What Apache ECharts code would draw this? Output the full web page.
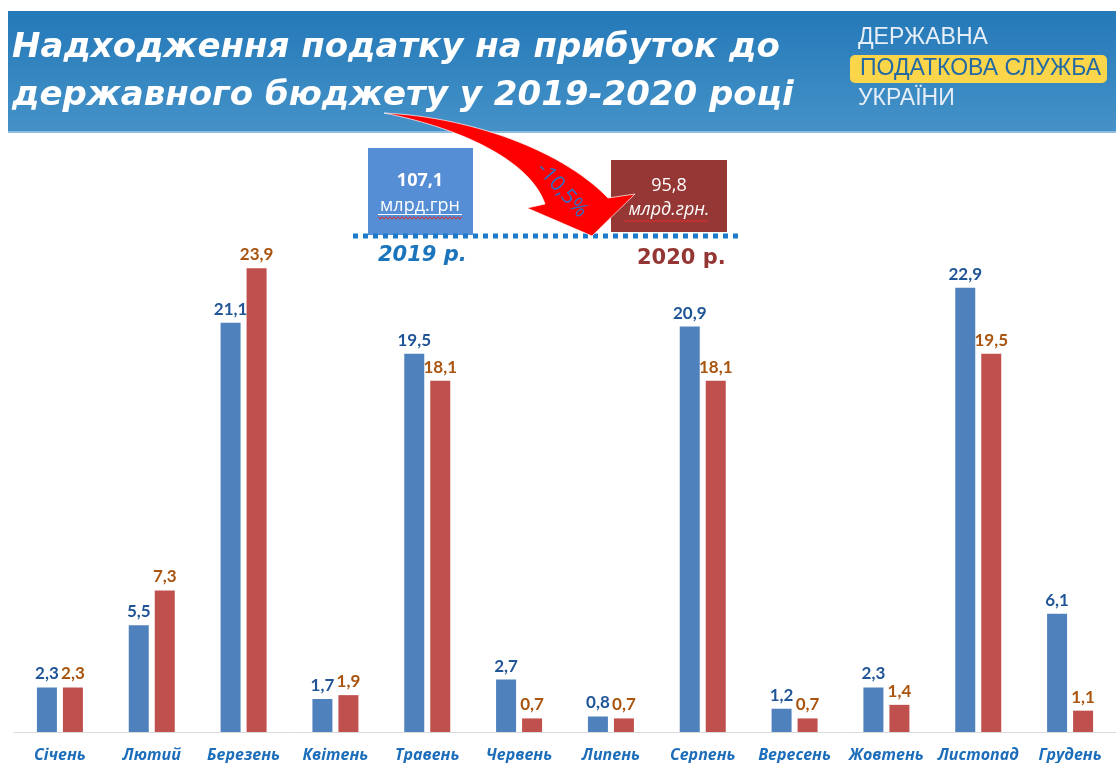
<!DOCTYPE html>
<html>
<head>
<meta charset="utf-8">
<script src="https://cdn.jsdelivr.net/npm/echarts@6/dist/echarts.min.js"></script>
<style>
  html, body { margin: 0; padding: 0; background: #ffffff; }
  #chart { width: 1116px; height: 763px; }
</style>
</head>
<body>
<div id="chart"></div>
<script>
// Monthly corporate profit tax receipts, bn UAH
const months = ['Січень', 'Лютий', 'Березень', 'Квітень', 'Травень', 'Червень',
                'Липень', 'Серпень', 'Вересень', 'Жовтень', 'Листопад', 'Грудень'];
const values2019 = [2.3, 5.5, 21.1, 1.7, 19.5, 2.7, 0.8, 20.9, 1.2, 2.3, 22.9, 6.1];
const values2020 = [2.3, 7.3, 23.9, 1.9, 18.1, 0.7, 0.7, 18.1, 0.7, 1.4, 19.5, 1.1];
const total2019 = '107,1';
const total2020 = '95,8';
const changePct = '-10,5%';
const titleLines = ['Надходження податку на прибуток до', 'державного бюджету у 2019-2020 році'];
const logoLines = ['ДЕРЖАВНА', 'ПОДАТКОВА СЛУЖБА', 'УКРАЇНИ'];

const fmt = p => String(p.value).replace('.', ',');

const chart = echarts.init(document.getElementById('chart'), null, { renderer: 'canvas' });

// red spell-check style wavy underline
const squiggle = (x0, x1, y) => {
  const pts = [];
  for (let x = x0, i = 0; x <= x1; x += 2, i++) pts.push([x, y + (i % 2 ? 1.2 : -1.2)]);
  return pts;
};

// sample a cubic bezier into points
const cubic = (p0, p1, p2, p3, n) => {
  const pts = [];
  for (let i = 0; i <= n; i++) {
    const t = i / n, u = 1 - t;
    pts.push([
      u * u * u * p0[0] + 3 * u * u * t * p1[0] + 3 * u * t * t * p2[0] + t * t * t * p3[0],
      u * u * u * p0[1] + 3 * u * u * t * p1[1] + 3 * u * t * t * p2[1] + t * t * t * p3[1]
    ]);
  }
  return pts;
};

// curved block arrow from the title down to the 2020 total
const arrowPoints = [].concat(
  cubic([384, 113], [470, 117], [562, 150], [608, 198], 30),
  [[635, 194], [592, 236], [527, 208], [545, 204]],
  cubic([545, 204], [530, 160], [460, 128], [384, 113], 30)
);

chart.setOption({
  animation: false,
  backgroundColor: '#ffffff',
  grid: { left: 14, right: 0, top: 150, bottom: 31, containLabel: false },
  xAxis: {
    type: 'category',
    data: months,
    axisLine: { show: true, lineStyle: { color: '#d9d9d9', width: 1 } },
    axisTick: { show: false },
    axisLabel: {
      color: '#1c6dba', fontFamily: 'Open Sans', fontWeight: 'bold', fontStyle: 'italic',
      fontSize: 16, margin: 15, interval: 0
    }
  },
  yAxis: { type: 'value', min: 0, max: 30, show: false, splitLine: { show: false } },
  series: [
    {
      name: '2019', type: 'bar', data: values2019, barWidth: 20, barGap: '30%',
      itemStyle: { color: '#4f81bd' },
      label: { show: true, position: 'top', distance: 5, formatter: fmt,
               color: '#1f5597', fontFamily: 'Lato', fontWeight: 'bold', fontSize: 17 }
    },
    {
      name: '2020', type: 'bar', data: values2020, barWidth: 20,
      itemStyle: { color: '#c0504d' },
      label: { show: true, position: 'top', distance: 5, formatter: fmt,
               color: '#a9550f', fontFamily: 'Lato', fontWeight: 'bold', fontSize: 17 }
    }
  ],
  graphic: [
    // header band
    {
      type: 'rect', shape: { x: 8, y: 11, width: 1108, height: 121 }, z: 10,
      style: { fill: new echarts.graphic.LinearGradient(0, 0, 0, 1, [
        { offset: 0, color: '#2479b8' }, { offset: 1, color: '#4592c8' }]) }
    },
    { type: 'rect', shape: { x: 8, y: 131, width: 1108, height: 2 }, z: 10, style: { fill: '#8fbde0' } },
    {
      type: 'text', x: 12, y: 48, z: 11,
      style: { text: titleLines[0], fill: '#ffffff', font: 'italic bold 34px "DejaVu Sans"', verticalAlign: 'middle' }
    },
    {
      type: 'text', x: 12, y: 96, z: 11,
      style: { text: titleLines[1], fill: '#ffffff', font: 'italic bold 34px "DejaVu Sans"', verticalAlign: 'middle' }
    },
    // service logo
    {
      type: 'text', x: 858, y: 38, z: 11,
      style: { text: logoLines[0], fill: '#e6eef7', font: '23px "Liberation Sans"', verticalAlign: 'middle' }
    },
    {
      type: 'rect', shape: { x: 850, y: 55, width: 257, height: 28, r: 5 }, z: 11,
      style: { fill: '#fcd64a' }
    },
    {
      type: 'text', x: 860, y: 69, z: 12,
      style: { text: logoLines[1], fill: '#2369a4', font: '23px "Liberation Sans"', verticalAlign: 'middle' }
    },
    {
      type: 'text', x: 858, y: 99, z: 11,
      style: { text: logoLines[2], fill: '#e6eef7', font: '23px "Liberation Sans"', verticalAlign: 'middle' }
    },
    // annual totals
    { type: 'rect', shape: { x: 368, y: 148, width: 105, height: 87 }, z: 10, style: { fill: '#558ed5' } },
    {
      type: 'text', x: 420, y: 181, z: 11,
      style: { text: total2019, fill: '#ffffff', font: 'bold 18px "Open Sans"', align: 'center', verticalAlign: 'middle' }
    },
    {
      type: 'text', x: 420, y: 206, z: 11,
      style: { text: 'млрд.грн', fill: '#ffffff', font: '18px "Open Sans"', align: 'center', verticalAlign: 'middle' }
    },
    { type: 'rect', shape: { x: 378, y: 214, width: 84, height: 1 }, z: 11, style: { fill: '#ffffff' } },
    { type: 'polyline', shape: { points: squiggle(378, 462, 218) }, z: 11, style: { stroke: '#e03030', lineWidth: 1, fill: null } },
    { type: 'rect', shape: { x: 611, y: 160, width: 116, height: 72 }, z: 10, style: { fill: '#953735' } },
    {
      type: 'text', x: 669, y: 186, z: 11,
      style: { text: total2020, fill: '#ffffff', font: '18px "Open Sans"', align: 'center', verticalAlign: 'middle' }
    },
    {
      type: 'text', x: 669, y: 210, z: 11,
      style: { text: 'млрд.грн.', fill: '#ffffff', font: 'italic 18px "Open Sans"', align: 'center', verticalAlign: 'middle' }
    },
    { type: 'polyline', shape: { points: squiggle(624, 708, 221) }, z: 11, style: { stroke: '#e03030', lineWidth: 1, fill: null } },
    {
      type: 'line', shape: { x1: 353, y1: 236, x2: 742, y2: 236 }, z: 12,
      style: { stroke: '#1d7ac9', lineWidth: 5, lineDash: [5, 5] }
    },
    {
      type: 'text', x: 378, y: 256, z: 11,
      style: { text: '2019 р.', fill: '#1b75bc', font: 'italic bold 21px "DejaVu Sans"', verticalAlign: 'middle' }
    },
    {
      type: 'text', x: 637, y: 259, z: 11,
      style: { text: '2020 р.', fill: '#943634', font: 'bold 21px "DejaVu Sans"', verticalAlign: 'middle' }
    },
    // change arrow
    {
      type: 'polygon', z: 20,
      shape: { points: arrowPoints },
      style: { fill: '#ff0000', stroke: 'rgba(255,255,255,0.7)', lineWidth: 1 }
    },
    {
      type: 'text', x: 562, y: 190, z: 21, rotation: -0.85,
      style: { text: changePct, fill: '#2f6fc0', font: '21px "Open Sans"', align: 'center', verticalAlign: 'middle' }
    }
  ]
});
</script>
</body>
</html>
